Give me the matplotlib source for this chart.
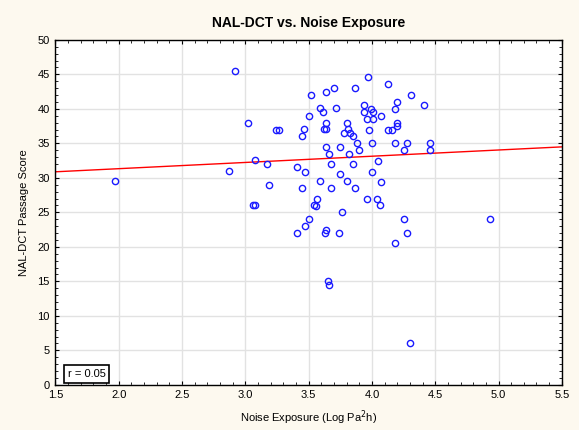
import numpy as np
import matplotlib
matplotlib.use("Agg")
import matplotlib.pyplot as plt
from matplotlib.ticker import MultipleLocator, FormatStrFormatter

plt.rcParams['font.family'] = ['Liberation Sans', 'DejaVu Sans']

noise_exposure = [
    1.97, 2.87, 2.92, 3.02, 3.08, 3.06, 3.08, 3.17, 3.19,
    3.52, 3.64, 3.70, 3.87, 3.59, 3.61, 3.72, 3.50, 3.24, 3.27,
    3.46, 3.45, 3.62, 3.64, 3.64, 3.80, 3.81, 3.78, 3.83, 3.85,
    3.88, 3.64, 3.75, 3.66, 3.82, 3.90,
    3.97, 4.13, 4.31, 4.20, 4.18, 4.41, 3.94, 3.99, 3.94, 4.01,
    4.07, 3.96, 4.01, 3.98, 4.13, 4.16, 4.20, 4.20, 4.00, 4.18,
    4.28, 4.46, 4.25, 4.46, 4.05,
    3.41, 3.47, 3.68, 3.85, 3.45, 3.75, 3.59, 3.80, 3.68, 3.87,
    3.57, 3.545, 3.555, 3.76, 3.50, 3.47, 3.41, 3.64, 3.63, 3.74,
    4.00, 4.07, 3.96, 4.04, 4.06, 4.25, 4.28, 4.18,
    3.65, 3.66, 4.93, 4.30,
]
passage_score = [
    29.5, 31.0, 45.5, 38.0, 32.6, 26.0, 26.0, 32.0, 29.0,
    42.0, 42.5, 43.0, 43.0, 40.1, 39.6, 40.1, 39.0, 37.0, 37.0,
    37.1, 36.0, 37.1, 37.1, 38.0, 38.0, 37.1, 36.5, 36.5, 36.0,
    35.0, 34.5, 34.5, 33.5, 33.5, 34.0,
    44.6, 43.6, 42.0, 41.0, 40.0, 40.5, 40.5, 40.0, 39.5, 39.5,
    39.0, 38.5, 38.5, 37.0, 37.0, 37.0, 38.0, 37.5, 35.0, 35.0,
    35.0, 35.0, 34.0, 34.0, 32.5,
    31.5, 30.9, 32.0, 32.0, 28.5, 30.5, 29.5, 29.5, 28.5, 28.5,
    27.0, 26.1, 25.9, 25.0, 24.0, 23.0, 22.0, 22.5, 22.0, 22.0,
    30.9, 29.4, 27.0, 27.0, 26.0, 24.0, 22.0, 20.5,
    15.0, 14.5, 24.0, 6.0,
]
r_value = 0.05

x = np.array(noise_exposure)
y = np.array(passage_score)

fig = plt.figure(figsize=(5.79, 4.30), dpi=100, facecolor='#fdf9ef')
ax = fig.add_axes([0.0957, 0.1051, 0.8746, 0.8023])
ax.set_facecolor('white')

ax.set_xlim(1.5, 5.5)
ax.set_ylim(0, 50)
ax.xaxis.set_major_locator(MultipleLocator(0.5))
ax.xaxis.set_minor_locator(MultipleLocator(0.1))
ax.yaxis.set_major_locator(MultipleLocator(5))
ax.yaxis.set_minor_locator(MultipleLocator(1))
ax.xaxis.set_major_formatter(FormatStrFormatter('%.1f'))
ax.grid(True, which='major', color='#e2e2e2', linewidth=1.0, zorder=0)
ax.set_axisbelow(True)
ax.tick_params(which='both', direction='in', top=True, right=True,
               labelsize=8, color='black')
ax.tick_params(axis='x', pad=4)
ax.tick_params(axis='y', pad=4)
ax.tick_params(which='major', length=3)
ax.tick_params(which='minor', length=2)
for s in ax.spines.values():
    s.set_linewidth(1.0)
    s.set_color('black')

slope, intercept = np.polyfit(x, y, 1)
xs = np.array([1.5, 5.5])
ax.plot(xs, intercept + slope * xs, color='red', linewidth=1.0, zorder=2)

ax.plot(x, y, linestyle='none', marker='o', markersize=4.5,
        markerfacecolor='none', markeredgecolor='#1a1aff',
        markeredgewidth=1.0, zorder=3)

ax.set_title('NAL-DCT vs. Noise Exposure', fontsize=10, fontweight='bold', pad=9.5)
ax.set_xlabel('Noise Exposure (Log Pa$^2$h)', fontsize=8, labelpad=5.5)
ax.set_ylabel('NAL-DCT Passage Score', fontsize=8, labelpad=6)

ax.text(0.024, 0.016, f'r = {r_value:.2f}', transform=ax.transAxes,
        fontsize=8, ha='left', va='bottom',
        bbox=dict(boxstyle='square,pad=0.35', facecolor='white',
                  edgecolor='black', linewidth=1.2))

fig.savefig('out.png', dpi=100, facecolor=fig.get_facecolor())
